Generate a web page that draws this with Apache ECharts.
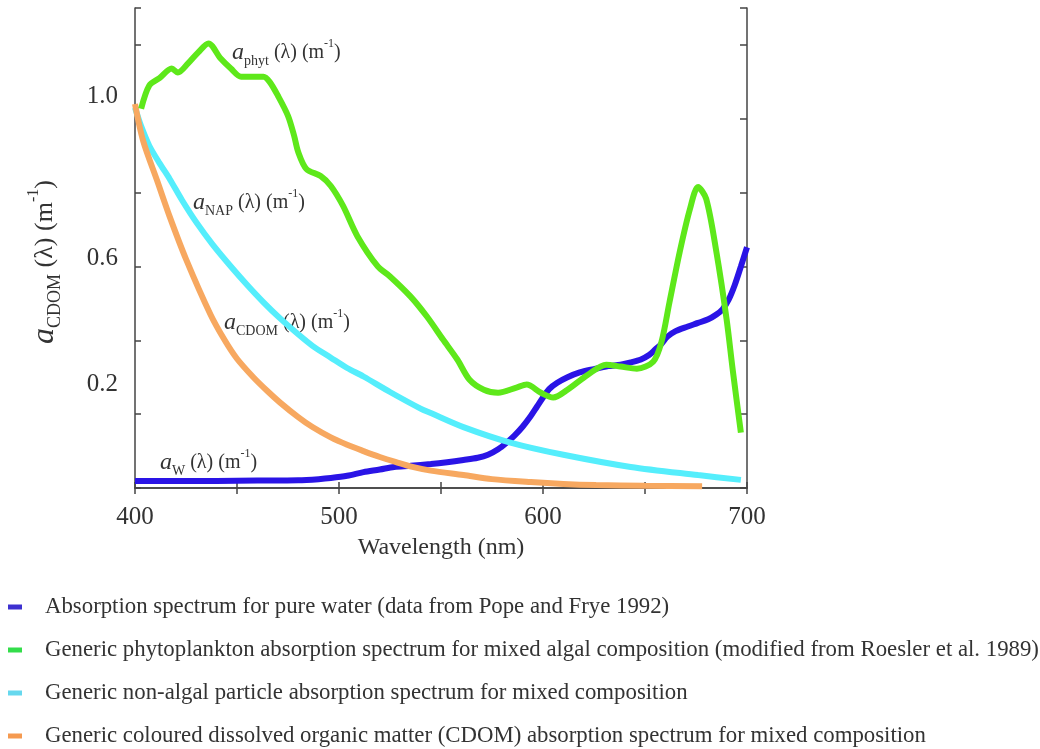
<!DOCTYPE html>
<html>
<head>
<meta charset="utf-8">
<script src="https://cdn.jsdelivr.net/npm/echarts@6/dist/echarts.min.js"></script>
<style>html,body{margin:0;padding:0;background:#fff;}#c{width:1040px;height:749px;}</style>
</head>
<body>
<div id="c"></div>
<script>
// ---- data ----
var seriesNames = [
  'Absorption spectrum for pure water (data from Pope and Frye 1992)',
  'Generic phytoplankton absorption spectrum for mixed algal composition (modified from Roesler et al. 1989)',
  'Generic non-algal particle absorption spectrum for mixed composition',
  'Generic coloured dissolved organic matter (CDOM) absorption spectrum for mixed composition'
];
var waterX = [400, 420, 440, 460, 480, 490, 496, 504, 512, 520, 527, 535, 545, 553, 561, 568, 573, 578, 582, 586, 590, 594, 597, 600, 603, 607, 612, 618, 625, 632, 638, 643, 648, 652, 655, 658, 661, 665, 671, 676, 681, 685, 688, 691, 694, 697, 700];
var waterY = [0.019, 0.019, 0.019, 0.02, 0.021, 0.024, 0.027, 0.033, 0.043, 0.05, 0.057, 0.06, 0.065, 0.07, 0.076, 0.082, 0.09, 0.105, 0.122, 0.142, 0.166, 0.195, 0.22, 0.245, 0.268, 0.285, 0.30, 0.313, 0.322, 0.33, 0.334, 0.34, 0.348, 0.36, 0.375, 0.39, 0.41, 0.425, 0.4375, 0.447, 0.457, 0.47, 0.484, 0.51, 0.55, 0.60, 0.652];
var phytX = [403, 407, 412, 418, 421, 426, 431, 436, 442, 447, 452, 457, 463, 466, 470, 475, 478, 480, 484, 491, 496, 502, 509, 519, 525, 535, 543, 551, 558, 564, 571, 578, 587, 592, 599, 605, 612, 622, 631, 638, 646, 654, 658, 662, 667, 672, 676, 680, 685, 690, 693, 697];
var phytY = [1.027, 1.09, 1.11, 1.136, 1.125, 1.15, 1.18, 1.204, 1.163, 1.136, 1.114, 1.114, 1.114, 1.10, 1.063, 1.008, 0.954, 0.91, 0.864, 0.845, 0.818, 0.764, 0.682, 0.60, 0.573, 0.519, 0.465, 0.402, 0.348, 0.293, 0.266, 0.258, 0.272, 0.280, 0.258, 0.245, 0.266, 0.307, 0.334, 0.329, 0.323, 0.342, 0.394, 0.503, 0.639, 0.755, 0.815, 0.783, 0.639, 0.457, 0.32, 0.15];
var napX = [400, 403, 407, 412, 417, 423, 430, 438, 447, 455, 463, 471, 479, 487, 496, 504, 512, 525, 540, 545, 561, 584, 610, 643, 676, 697];
var napY = [1.03, 0.98, 0.927, 0.88, 0.837, 0.78, 0.72, 0.66, 0.60, 0.55, 0.503, 0.46, 0.421, 0.385, 0.353, 0.325, 0.302, 0.26, 0.215, 0.203, 0.165, 0.123, 0.09, 0.057, 0.035, 0.022];
var cdomX = [400, 404, 411, 417, 425, 437, 444, 450, 458, 465, 471, 480, 487, 496, 504, 512, 520, 528, 536, 545, 561, 575, 594, 610, 626, 650, 678];
var cdomY = [1.04, 0.94, 0.83, 0.735, 0.62, 0.47, 0.40, 0.35, 0.30, 0.262, 0.232, 0.192, 0.165, 0.137, 0.117, 0.10, 0.084, 0.07, 0.057, 0.047, 0.035, 0.024, 0.016, 0.011, 0.008, 0.006, 0.005];
var xTickLabels = [400, 500, 600, 700];
var yTickLabels = [0.2, 0.6, 1.0];

function zip(xs, ys) { return xs.map(function (x, i) { return [x, ys[i]]; }); }

var SERIF = 'Liberation Serif';
var lineColors = ['#2a14e6', '#5ee81a', '#55eefc', '#f7a860'];
var legendColors = ['#3d30d0', '#33dd4a', '#66d8ee', '#f59a50'];
var datasets = [zip(waterX, waterY), zip(phytX, phytY), zip(napX, napY), zip(cdomX, cdomY)];

function annRich(subSize, mainSize, aSize) {
  return {
    a: { fontFamily: SERIF, fontStyle: 'italic', fontSize: aSize, lineHeight: aSize + 6, fill: '#333', verticalAlign: 'middle' },
    s: { fontFamily: SERIF, fontSize: subSize, lineHeight: subSize, fill: '#333', verticalAlign: 'bottom' },
    n: { fontFamily: SERIF, fontSize: mainSize, lineHeight: aSize + 6, fill: '#333', verticalAlign: 'middle' },
    p: { fontFamily: SERIF, fontSize: Math.round(mainSize * 0.6), lineHeight: Math.round(mainSize * 0.6), fill: '#333', verticalAlign: 'top' }
  };
}
function annText(sub) { return '{a|a}{s|' + sub + '}{n| (λ) (m}{p|-1}{n|)}'; }

var chart = echarts.init(document.getElementById('c'), null, { renderer: 'canvas' });
var axisCol = '#444';
var yLabelShift = { '0.2': 60, '0.6': 16, '1.0': 44 };
var option = {
  backgroundColor: '#fff',
  animation: false,
  grid: { left: 135, right: 293, top: 8, bottom: 261, containLabel: false },
  xAxis: [{
    type: 'value', min: 400, max: 700, interval: 50, position: 'bottom',
    axisLine: { lineStyle: { color: axisCol, width: 1.5 } },
    axisTick: { inside: true, length: 6, lineStyle: { color: axisCol, width: 1.5 } },
    splitLine: { show: false },
    axisLabel: {
      margin: 17, color: '#333', fontFamily: SERIF, fontSize: 25,
      formatter: function (v) { return xTickLabels.indexOf(v) >= 0 ? String(v) : ''; }
    },
    name: 'Wavelength (nm)', nameLocation: 'middle', nameGap: 48,
    nameTextStyle: { fontFamily: SERIF, fontSize: 24, color: '#333' }
  }, {
    type: 'value', min: 400, max: 700, interval: 50, position: 'top',
    axisLine: { lineStyle: { color: axisCol, width: 1.5 } },
    axisTick: { inside: true, length: 6, lineStyle: { color: axisCol, width: 1.5 } },
    splitLine: { show: false }, axisLabel: { show: false }
  }],
  yAxis: [{
    type: 'value', min: 0, max: 1.3, interval: 0.2, position: 'left',
    axisLine: { show: true, lineStyle: { color: axisCol, width: 1.5 } },
    axisTick: { show: true, inside: true, length: 6, lineStyle: { color: axisCol, width: 1.5 } },
    splitLine: { show: false },
    axisLabel: {
      margin: 17, color: '#333', fontFamily: SERIF, fontSize: 25,
      formatter: function (v) {
        var s = v.toFixed(1);
        for (var i = 0; i < yTickLabels.length; i++) {
          if (Math.abs(yTickLabels[i] - v) < 1e-6) return '{l' + i + '|' + s + '}';
        }
        return '';
      },
      rich: {
        l0: { fontFamily: SERIF, fontSize: 25, color: '#333', padding: [0, 0, yLabelShift['0.2'], 0] },
        l1: { fontFamily: SERIF, fontSize: 25, color: '#333', padding: [0, 0, yLabelShift['0.6'], 0] },
        l2: { fontFamily: SERIF, fontSize: 25, color: '#333', padding: [0, 0, yLabelShift['1.0'], 0] }
      }
    }
  }, {
    type: 'value', min: 0, max: 1.3, interval: 0.2, position: 'right',
    axisLine: { show: true, lineStyle: { color: axisCol, width: 1.5 } },
    axisTick: { show: true, inside: true, length: 7, lineStyle: { color: axisCol, width: 1.5 } },
    splitLine: { show: false }, axisLabel: { show: false }
  }],
  legend: {
    orient: 'vertical', left: 8, top: 595, padding: 0, itemWidth: 14, itemHeight: 5, itemGap: 19,
    icon: 'rect',
    data: seriesNames.map(function (n, i) { return { name: n, itemStyle: { color: legendColors[i] } }; }),
    textStyle: { fontFamily: SERIF, fontSize: 22.8, color: '#333', padding: [0, 0, 0, 18], lineHeight: 24 }
  },
  series: seriesNames.map(function (n, i) {
    return {
      name: n, type: 'line', data: datasets[i], showSymbol: false, smooth: 0.3,
      xAxisIndex: 0, yAxisIndex: 0,
      itemStyle: { color: legendColors[i] },
      lineStyle: { color: lineColors[i], width: 6 },
      z: [1, 3, 2, 2][i]
    };
  }),
  graphic: [
    { type: 'text', x: 45, y: 262, rotation: Math.PI / 2,
      style: { text: annText('CDOM'), rich: annRich(18, 26, 32), align: 'center', verticalAlign: 'middle' } },
    { type: 'text', x: 232, y: 53, style: { text: annText('phyt'), rich: annRich(14, 20, 24), align: 'left', verticalAlign: 'middle' } },
    { type: 'text', x: 193, y: 203, style: { text: annText('NAP'), rich: annRich(14, 20, 24), align: 'left', verticalAlign: 'middle' } },
    { type: 'text', x: 224, y: 323, style: { text: annText('CDOM'), rich: annRich(14, 20, 24), align: 'left', verticalAlign: 'middle' } },
    { type: 'text', x: 160, y: 463, style: { text: annText('W'), rich: annRich(14, 20, 24), align: 'left', verticalAlign: 'middle' } }
  ]
};
chart.setOption(option);
</script>
</body>
</html>
